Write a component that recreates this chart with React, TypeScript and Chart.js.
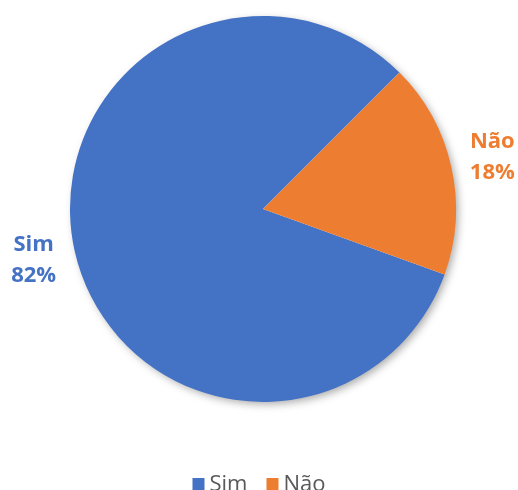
import React, { useEffect, useRef } from "react";
import { Chart, registerables } from "chart.js";

Chart.register(...registerables);

const categories = ["Sim", "Não"];
const values = [82, 18];
const colors = ["#4472C4", "#ED7D31"];

export default function App() {
  const ref = useRef<HTMLCanvasElement | null>(null);
  useEffect(() => {
    if (!ref.current) return;
    const shadowPlugin = {
      id: "shadowPlugin",
      beforeDatasetsDraw(chart: any) {
        const meta = chart.getDatasetMeta(0);
        const arc = meta.data[0];
        if (!arc) return;
        const { x, y, outerRadius } = arc.getProps(["x", "y", "outerRadius"], true);
        const ctx = chart.ctx;
        ctx.save();
        ctx.shadowColor = "rgba(0,0,0,0.35)";
        ctx.shadowBlur = 9;
        ctx.shadowOffsetX = 3;
        ctx.shadowOffsetY = 3;
        ctx.beginPath();
        ctx.arc(x, y, outerRadius - 1, 0, Math.PI * 2);
        ctx.fillStyle = "#ffffff";
        ctx.fill();
        ctx.restore();
      },
      afterDraw(chart: any) {
        const ctx = chart.ctx;
        const meta = chart.getDatasetMeta(0);
        const total = values.reduce((a, b) => a + b, 0);
        ctx.save();
        ctx.textAlign = "center";
        ctx.textBaseline = "middle";
        ctx.font = "bold 22px 'Open Sans', sans-serif";
        meta.data.forEach((arc: any, i: number) => {
          const p = arc.getProps(["x", "y", "startAngle", "endAngle", "outerRadius"], true);
          const mid = (p.startAngle + p.endAngle) / 2;
          const d = p.outerRadius + 42;
          const cx = p.x + Math.cos(mid) * d;
          const cy = p.y + Math.sin(mid) * d;
          ctx.fillStyle = colors[i];
          ctx.fillText(categories[i], cx, cy - 16);
          ctx.fillText(Math.round((values[i] / total) * 100) + "%", cx, cy + 15);
        });
        // legend
        ctx.font = "22px 'Open Sans', sans-serif";
        ctx.textAlign = "left";
        const ly = 484;
        const items = categories.map((c) => ({ c, w: ctx.measureText(c).width }));
        const box = 12;
        const gap = 5;
        const spacing = 19;
        const totalW = items.reduce((s, it) => s + box + gap + it.w, 0) + spacing * (items.length - 1);
        let x = chart.width / 2 - totalW / 2;
        items.forEach((it, i) => {
          ctx.fillStyle = colors[i];
          ctx.fillRect(x, ly - box / 2, box, box);
          x += box + gap;
          ctx.fillStyle = "#595959";
          ctx.fillText(it.c, x, ly + 1);
          x += it.w + spacing;
        });
        ctx.restore();
      },
    };
    const chart = new Chart(ref.current, {
      type: "pie",
      data: {
        labels: categories,
        datasets: [
          {
            data: values,
            backgroundColor: colors,
            borderWidth: 0,
          },
        ],
      },
      options: {
        responsive: false,
        animation: false,
        rotation: 109.8,
        layout: { padding: { left: 70, right: 62, top: 16, bottom: 88 } },
        plugins: {
          legend: { display: false },
          tooltip: { enabled: false },
        },
      },
      plugins: [shadowPlugin],
    });
    return () => chart.destroy();
  }, []);
  return (
    <div style={{ position: "fixed", left: 0, top: 0, width: 518, height: 490, background: "#fff" }}>
      <canvas ref={ref} width={518} height={490} style={{ display: "block" }} />
    </div>
  );
}
